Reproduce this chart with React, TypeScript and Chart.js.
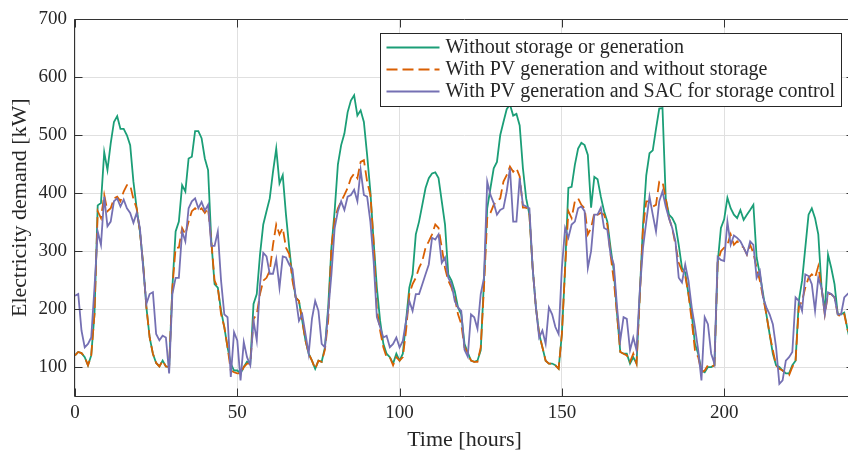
import React, { useEffect, useRef } from "react";
import { Chart, registerables } from "chart.js";

Chart.register(...registerables);

// Hourly electricity demand [kW], hours 0..239
const withoutStorage: number[] = [
  120, 126, 124, 117, 103, 120, 191, 379, 383, 471,
  440, 486, 523, 533, 511, 511, 500, 483, 420, 374,
  334, 277, 203, 151, 123, 107, 101, 111, 101, 100,
  237, 334, 351, 414, 403, 460, 463, 507, 507, 495,
  460, 440, 317, 243, 237, 197, 169, 134, 106, 94,
  94, 89, 100, 109, 106, 209, 226, 294, 346, 369,
  391, 437, 477, 417, 431, 363, 306, 255, 220, 214,
  180, 146, 123, 111, 97, 111, 109, 134, 203, 306,
  370, 450, 483, 503, 540, 560, 569, 534, 543, 523,
  466, 403, 317, 237, 180, 140, 123, 117, 106, 123,
  111, 123, 180, 237, 260, 329, 351, 380, 409, 426,
  434, 436, 426, 386, 346, 260, 249, 231, 203, 191,
  140, 125, 111, 109, 111, 129, 249, 374, 409, 443,
  454, 500, 523, 545, 553, 534, 537, 517, 443, 391,
  363, 271, 203, 157, 134, 111, 106, 106, 103, 97,
  157, 271, 409, 411, 449, 477, 487, 483, 466, 375,
  428, 424, 394, 369, 351, 306, 266, 191, 126, 123,
  123, 106, 117, 106, 226, 346, 431, 469, 474, 511,
  546, 547, 391, 363, 357, 346, 311, 271, 263, 226,
  191, 140, 123, 94, 91, 100, 100, 103, 280, 340,
  355, 392, 374, 363, 357, 371, 354, 363, 371, 380,
  289, 260, 226, 191, 157, 123, 103, 100, 94, 89,
  89, 103, 111, 214, 249, 306, 363, 374, 357, 329,
  237, 197, 294, 271, 243, 191, 191, 194, 165, 140,
];

const withPV: number[] = [
  120, 126, 124, 117, 103, 120, 191, 369, 357, 397,
  369, 374, 391, 394, 386, 403, 414, 414, 390, 374,
  334, 277, 203, 151, 123, 107, 101, 111, 101, 100,
  237, 306, 306, 340, 329, 351, 369, 374, 369, 374,
  366, 374, 317, 249, 237, 191, 169, 134, 94, 91,
  89, 89, 100, 106, 106, 183, 191, 226, 249, 254,
  266, 311, 346, 329, 340, 306, 295, 249, 220, 214,
  180, 146, 123, 111, 97, 111, 109, 130, 180, 306,
  355, 374, 386, 397, 409, 426, 434, 426, 454, 457,
  420, 397, 317, 200, 163, 134, 117, 117, 103, 117,
  111, 117, 163, 226, 243, 254, 271, 283, 306, 317,
  329, 346, 340, 306, 271, 249, 237, 220, 191, 174,
  134, 125, 111, 109, 109, 134, 237, 357, 366, 380,
  386, 391, 420, 431, 446, 437, 443, 429, 375, 375,
  363, 271, 203, 157, 134, 111, 106, 106, 103, 97,
  157, 271, 369, 357, 386, 391, 380, 374, 329, 340,
  366, 363, 366, 363, 346, 294, 249, 191, 126, 123,
  120, 109, 123, 106, 220, 340, 386, 386, 377, 380,
  420, 420, 391, 357, 340, 311, 280, 266, 257, 226,
  180, 129, 117, 91, 94, 103, 100, 103, 280, 300,
  306, 311, 329, 311, 317, 311, 306, 294, 311, 297,
  271, 249, 220, 191, 157, 129, 103, 97, 94, 89,
  86, 100, 111, 203, 214, 237, 254, 260, 254, 274,
  237, 191, 226, 226, 220, 191, 186, 191, 165, 155,
];

const withSAC: number[] = [
  223, 226, 163, 134, 140, 151, 237, 334, 311, 394,
  343, 351, 386, 391, 377, 389, 374, 366, 349, 366,
  340, 271, 209, 226, 229, 157, 146, 154, 151, 89,
  226, 254, 254, 334, 317, 374, 386, 391, 374, 385,
  370, 380, 309, 309, 334, 249, 191, 186, 83, 160,
  146, 77, 143, 117, 103, 180, 146, 243, 297, 291,
  261, 261, 286, 237, 291, 289, 277, 269, 220, 180,
  191, 157, 123, 183, 214, 197, 140, 134, 195, 260,
  340, 369, 386, 371, 394, 397, 406, 386, 440, 397,
  394, 351, 283, 186, 169, 151, 154, 134, 140, 151,
  134, 145, 180, 214, 197, 226, 226, 243, 260, 277,
  323, 320, 329, 280, 289, 254, 243, 214, 203, 197,
  130, 118, 191, 186, 166, 226, 254, 420, 397, 383,
  363, 371, 374, 403, 443, 351, 351, 426, 380, 377,
  374, 271, 203, 151, 163, 140, 203, 191, 169, 157,
  271, 340, 323, 346, 351, 374, 377, 369, 271, 300,
  363, 363, 375, 340, 337, 294, 277, 203, 146, 186,
  183, 129, 151, 129, 231, 306, 351, 394, 363, 334,
  386, 403, 377, 357, 340, 317, 254, 246, 277, 249,
  203, 169, 129, 77, 186, 174, 123, 106, 290, 285,
  283, 351, 311, 327, 323, 317, 306, 294, 317, 311,
  254, 266, 220, 203, 191, 174, 134, 71, 77, 111,
  117, 126, 220, 214, 197, 260, 257, 243, 197, 254,
  237, 191, 229, 226, 220, 191, 191, 220, 226, 231,
];

const seriesLabels: string[] = [
  "Without storage or generation",
  "With PV generation and without storage",
  "With PV generation and SAC for storage control",
];

const xTickValues: number[] = [0, 50, 100, 150, 200];
const yTickValues: number[] = [100, 200, 300, 400, 500, 600, 700];

const FONT = '"Liberation Serif", "Times New Roman", serif';
const TXT = "#262626";
const GRID = "#e0e0e0";

const toPoints = (arr: number[]) => arr.map((v, i) => ({ x: i, y: v }));

const framePlugin = {
  id: "frameAndLegend",
  afterDraw(chart: any) {
    const { ctx, chartArea: a, scales } = chart;
    const xs = scales.x;
    const ys = scales.y;
    ctx.save();
    // axes box
    ctx.strokeStyle = "#333333";
    ctx.lineWidth = 1;
    const L = Math.floor(a.left) - 0.5;
    const R = Math.floor(a.right) + 0.5;
    const T = Math.floor(a.top) + 0.5;
    const B = Math.floor(a.bottom) + 0.5;
    ctx.beginPath();
    ctx.moveTo(L, T);
    ctx.lineTo(R, T);
    ctx.lineTo(R, B);
    ctx.lineTo(L, B);
    ctx.closePath();
    ctx.stroke();
    // inward ticks
    const TL = 8;
    ctx.beginPath();
    for (const v of yTickValues) {
      const y = Math.round(ys.getPixelForValue(v)) + 0.5;
      ctx.moveTo(L, y);
      ctx.lineTo(L + TL, y);
      ctx.moveTo(R, y);
      ctx.lineTo(R - TL, y);
    }
    for (const v of xTickValues) {
      const x = Math.round(xs.getPixelForValue(v)) + 0.5;
      ctx.moveTo(x, B);
      ctx.lineTo(x, B - TL);
      ctx.moveTo(x, T);
      ctx.lineTo(x, T + TL);
    }
    ctx.stroke();

    // legend box (north-east)
    const ds = chart.data.datasets;
    ctx.font = `20px ${FONT}`;
    let maxW = 0;
    for (const d of ds) maxW = Math.max(maxW, ctx.measureText(d.label).width);
    const padL = 6;
    const lineLen = 53;
    const gap = 6;
    const padR = 7;
    const boxW = padL + lineLen + gap + maxW + padR;
    const boxR = Math.floor(a.right) - 13 + 0.5;
    const boxL = Math.round(boxR - boxW) + 0.5;
    const boxT = Math.floor(a.top) + 14 + 0.5;
    const boxH = 73;
    ctx.fillStyle = "#ffffff";
    ctx.fillRect(boxL, boxT, boxR - boxL, boxH);
    ctx.strokeStyle = "#262626";
    ctx.lineWidth = 1;
    ctx.strokeRect(boxL, boxT, boxR - boxL, boxH);
    const rowY = [13, 35.5, 57.5];
    ds.forEach((d: any, i: number) => {
      const y = boxT + rowY[i];
      ctx.save();
      ctx.strokeStyle = d.borderColor;
      ctx.lineWidth = d.borderWidth;
      ctx.setLineDash(d.borderDash || []);
      ctx.beginPath();
      ctx.moveTo(boxL + padL, Math.round(y) + 0.5);
      ctx.lineTo(boxL + padL + lineLen, Math.round(y) + 0.5);
      ctx.stroke();
      ctx.restore();
      ctx.fillStyle = TXT;
      ctx.textAlign = "left";
      ctx.textBaseline = "middle";
      ctx.fillText(d.label, boxL + padL + lineLen + gap, y + 1);
    });
    ctx.restore();
  },
};

export default function App() {
  const ref = useRef<HTMLCanvasElement | null>(null);

  useEffect(() => {
    if (!ref.current) return;
    const chart = new Chart(ref.current, {
      type: "line",
      data: {
        datasets: [
          {
            label: seriesLabels[0],
            data: toPoints(withoutStorage),
            borderColor: "#1b9e77",
            borderWidth: 1.8,
            pointRadius: 0,
            tension: 0,
            order: 3,
          },
          {
            label: seriesLabels[1],
            data: toPoints(withPV),
            borderColor: "#d95f02",
            borderWidth: 1.8,
            borderDash: [11, 5],
            pointRadius: 0,
            tension: 0,
            order: 2,
          },
          {
            label: seriesLabels[2],
            data: toPoints(withSAC),
            borderColor: "#7570b3",
            borderWidth: 1.8,
            pointRadius: 0,
            tension: 0,
            order: 1,
          },
        ],
      },
      options: {
        responsive: false,
        animation: false,
        devicePixelRatio: 1,
        layout: { padding: { left: 0, top: 17, right: 6, bottom: 0 } },
        plugins: { legend: { display: false }, tooltip: { enabled: false } },
        scales: {
          x: {
            type: "linear",
            min: 0,
            max: 240,
            afterBuildTicks: (s: any) => {
              s.ticks = xTickValues.map((v) => ({ value: v }));
            },
            afterFit: (s: any) => {
              s.height = 59;
            },
            grid: { color: GRID, lineWidth: 1, drawTicks: false },
            border: { display: false },
            ticks: {
              padding: 6,
              autoSkip: false,
              maxRotation: 0,
              color: TXT,
              font: { family: FONT, size: 19 },
            },
            title: {
              display: true,
              text: "Time [hours]",
              color: TXT,
              font: { family: FONT, size: 22 },
              padding: { top: 0, bottom: 2 },
            },
          },
          y: {
            type: "linear",
            min: 50,
            max: 700,
            afterBuildTicks: (s: any) => {
              s.ticks = yTickValues.map((v) => ({ value: v }));
            },
            afterFit: (s: any) => {
              s.width = 75;
            },
            grid: { color: GRID, lineWidth: 1, drawTicks: false },
            border: { display: false },
            ticks: {
              padding: 8,
              color: TXT,
              font: { family: FONT, size: 19 },
            },
            title: {
              display: true,
              text: "Electricity demand [kW]",
              color: TXT,
              font: { family: FONT, size: 22 },
              padding: { top: 7, bottom: 0 },
            },
          },
        },
      },
      plugins: [framePlugin],
    } as any);
    return () => chart.destroy();
  }, []);

  return (
    <div
      style={{
        position: "fixed",
        left: 0,
        top: 0,
        width: 848,
        height: 455,
        overflow: "hidden",
        background: "#ffffff",
      }}
    >
      <canvas
        ref={ref}
        width={860}
        height={455}
        style={{ display: "block", width: 860, height: 455 }}
      />
    </div>
  );
}
